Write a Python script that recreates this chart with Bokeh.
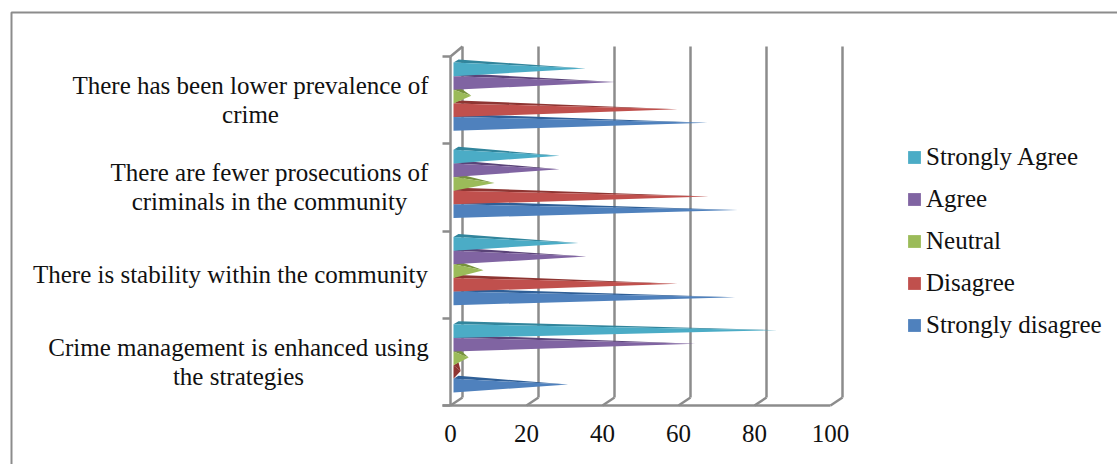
from bokeh.plotting import figure
from bokeh.models import Range1d, FixedTicker, Legend, LegendItem, BoxAnnotation, Label, LinearAxis
from bokeh.embed import file_html
from bokeh.resources import INLINE

category_lines = [["Crime management is enhanced using", "the strategies"],
                  ["There is stability within the community"],
                  ["There are fewer prosecutions of", "criminals in the community"],
                  ["There has been lower prevalence of", "crime"]]
label_centres = [238, 230, 269, 250]
x_ticks = [0, 20, 40, 60, 80, 100]
strongly_disagree = [29, 73, 73.6, 65.7]
disagree = [0.7, 57.8, 66, 57.8]
neutral = [2.8, 6.7, 9.6, 3.5]
agree = [62.5, 33.8, 26.7, 41.4]
strongly_agree = [84, 31.7, 26.7, 33.6]

series = [("Strongly disagree", strongly_disagree, "#4F81BD", "#2F5F97"),
          ("Disagree", disagree, "#C0504D", "#8E3532"),
          ("Neutral", neutral, "#9BBB59", "#76923C"),
          ("Agree", agree, "#8064A2", "#5A4378"),
          ("Strongly Agree", strongly_agree, "#4BACC6", "#31859C")]

PX_X = 3.8      # pixels per value unit
PX_Y = 87.25    # pixels per category
X0_PX, Y0_PX = 450, 405
W, H = 1117, 464
GRID = "#8C8C8C"
FONT = "Liberation Serif"
FS = "25px"
LW = 2.5

p = figure(width=W, height=H, output_backend="svg", toolbar_location=None,
           x_range=Range1d(-X0_PX / PX_X, (W - X0_PX) / PX_X),
           y_range=Range1d((Y0_PX - H) / PX_Y, Y0_PX / PX_Y),
           x_axis_location=None, y_axis_location=None,
           min_border=0, outline_line_color=None, background_fill_color="white", border_fill_color="white")
p.grid.visible = False

dx, dy = 12 / PX_X, 8 / PX_Y
top = 4 + 10 / PX_Y
p.segment(x0=[v + dx for v in x_ticks], y0=[dy] * 6, x1=[v + dx for v in x_ticks], y1=[top] * 6,
          line_color=GRID, line_width=LW)
p.segment(x0=x_ticks, y0=[0] * 6, x1=[v + dx for v in x_ticks], y1=[dy] * 6, line_color=GRID, line_width=LW)
p.segment(x0=[0], y0=[4], x1=[dx], y1=[top], line_color=GRID, line_width=LW)

x0 = 3 / PX_X
tip_off = 7.5 / PX_X
band = 0.156
pad = 0.15
renderers = {}
for k, (name, vals, col, dark) in enumerate(series):
    xs_f, ys_f, xs_t, ys_t, cols = [], [], [], [], []
    for i, v in enumerate(vals):
        b = i + pad + k * band
        t = b + band
        tx = v + tip_off
        ty = (b + t) / 2 + 1 / PX_Y
        xs_f.append([x0, x0, tx])
        ys_f.append([b, t, ty])
        xs_t.append([x0, x0 + 5 / PX_X, tx])
        ys_t.append([t, t + 3 / PX_Y, ty])
        cols.append(col if v >= 2 else dark)
    p.patches(xs_t, ys_t, fill_color=dark, line_color=None)
    renderers[name] = p.patches(xs_f, ys_f, fill_color=cols, line_color=None)

xa = LinearAxis(fixed_location=0, ticker=FixedTicker(ticks=x_ticks), bounds=(-8 / PX_X, 100),
                axis_line_color=GRID, axis_line_width=LW, major_tick_in=0, major_tick_out=0,
                minor_tick_in=0, minor_tick_out=0, major_label_text_font=FONT,
                major_label_text_font_size=FS, major_label_text_color="#111111", major_label_standoff=19)
p.add_layout(xa, "below")

ya = LinearAxis(fixed_location=0, ticker=FixedTicker(ticks=[0, 1, 2, 3, 4]), bounds=(0, 4),
                axis_line_color=GRID, axis_line_width=LW, major_tick_in=0, major_tick_out=8,
                major_tick_line_color=GRID, major_tick_line_width=LW, minor_tick_in=0, minor_tick_out=0,
                major_label_overrides={i: "" for i in range(5)})
p.add_layout(ya, "left")

LINE_GAP = 29 / PX_Y
for i, lines in enumerate(category_lines):
    start = i + 0.5 + (len(lines) - 1) * LINE_GAP / 2
    for j, line in enumerate(lines):
        p.add_layout(Label(x=(label_centres[i] - X0_PX) / PX_X, y=start - j * LINE_GAP, text=line,
                           text_align="center", text_baseline="middle", text_font=FONT, text_font_size=FS,
                           text_color="#111111"))

legend = Legend(items=[LegendItem(label=s[0], renderers=[renderers[s[0]]], index=1) for s in reversed(series)],
                location=(906, H - 339), orientation="vertical", padding=0, margin=0, spacing=14,
                label_text_font=FONT, label_text_font_size=FS, label_text_color="#111111",
                glyph_width=16, glyph_height=16, label_standoff=4,
                background_fill_alpha=0, border_line_color=None)
p.add_layout(legend)

p.add_layout(BoxAnnotation(left=11, top=12, right=W + 20, bottom=H + 20, left_units="canvas", right_units="canvas",
                           top_units="canvas", bottom_units="canvas", fill_alpha=0, line_alpha=1,
                           line_color="#8C8C8C", line_width=2))

open("out.html", "w").write(file_html(p, INLINE))
